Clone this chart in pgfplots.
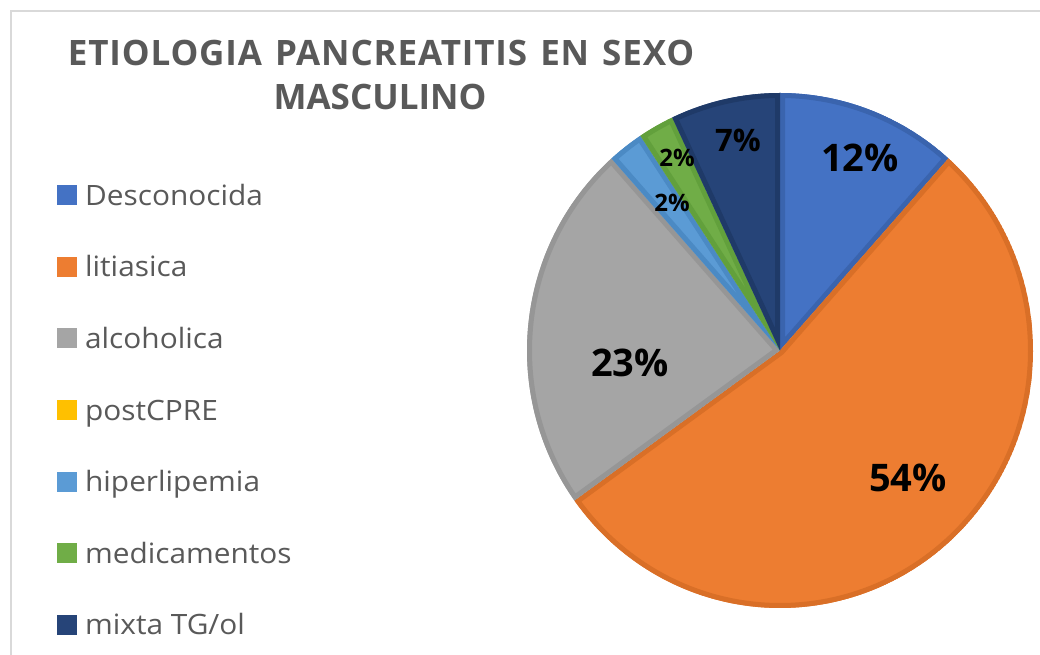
\documentclass[border=0pt]{standalone}
\usepackage{fontspec}
\setmainfont{Open Sans}
\newfontfamily\legfont[FakeStretch=1.065]{Open Sans}
\newfontfamily\titfont[LetterSpace=2.5]{Open Sans}
\usepackage{pgfplots}
\usepackage{pgfplotstable}
\pgfplotsset{compat=1.18}

\definecolor{pc0}{HTML}{4472C4}\definecolor{pd0}{HTML}{3A64AE}
\definecolor{pc1}{HTML}{ED7D31}\definecolor{pd1}{HTML}{D96F27}
\definecolor{pc2}{HTML}{A5A5A5}\definecolor{pd2}{HTML}{969696}
\definecolor{pc3}{HTML}{FFC000}\definecolor{pd3}{HTML}{E6AD00}
\definecolor{pc4}{HTML}{5B9BD5}\definecolor{pd4}{HTML}{4B8AC4}
\definecolor{pc5}{HTML}{70AD47}\definecolor{pd5}{HTML}{62A03C}
\definecolor{pc6}{HTML}{264478}\definecolor{pd6}{HTML}{1F3A68}
\definecolor{txt}{HTML}{595959}
\definecolor{framec}{HTML}{D9D9D9}

% value = share in percent; lab = printed label; lx,ly = label position (axis units); size = label font size
\pgfplotstableread{
idx value lab lx ly size
0 11.6 12 0.316 0.748 38
1 53.5 54 0.506 -0.495 38
2 23.3 23 -0.593 -0.049 38
3 0.0 0 0 0 24
4 2.3 2 -0.427 0.573 24
5 2.3 2 -0.407 0.748 24
6 7.0 7 -0.166 0.817 31
}\piedata

\def\cum{0}
\pgfplotsforeachungrouped \i in {0,...,6}{%
  \pgfplotstablegetelem{\i}{value}\of\piedata
  \pgfmathsetmacro\tmpS{3.6*\cum}%
  \pgfmathsetmacro\tmpC{\cum+\pgfplotsretval}%
  \pgfmathsetmacro\tmpE{3.6*\tmpC}%
  \expandafter\xdef\csname pieS\i\endcsname{\tmpS}%
  \expandafter\xdef\csname pieE\i\endcsname{\tmpE}%
  \xdef\cum{\tmpC}%
  \pgfplotstablegetelem{\i}{lx}\of\piedata
  \expandafter\xdef\csname pieX\i\endcsname{\pgfplotsretval}%
  \pgfplotstablegetelem{\i}{ly}\of\piedata
  \expandafter\xdef\csname pieY\i\endcsname{\pgfplotsretval}%
  \pgfplotstablegetelem{\i}{lab}\of\piedata
  \expandafter\xdef\csname pieL\i\endcsname{\pgfplotsretval}%
  \pgfplotstablegetelem{\i}{size}\of\piedata
  \expandafter\xdef\csname pieZ\i\endcsname{\pgfplotsretval}%
}

\newcommand\pieslice[1]{%
  \pgfmathsetmacro\aS{90-\csname pieS#1\endcsname}%
  \pgfmathsetmacro\aE{90-\csname pieE#1\endcsname}%
  \begin{scope}
    \clip (axis cs:0,0) -- (axis cs:{cos(\aS)},{sin(\aS)})
      arc[start angle=\aS, end angle=\aE, x radius=253pt, y radius=257.5pt] -- cycle;
    \filldraw[fill=pc#1, draw=pd#1, line width=10pt, line join=round]
      (axis cs:0,0) -- (axis cs:{cos(\aS)},{sin(\aS)})
      arc[start angle=\aS, end angle=\aE, x radius=253pt, y radius=257.5pt] -- cycle;
  \end{scope}
}
\newcommand\pielabel[1]{%
  \node[font=\bfseries\fontsize{\csname pieZ#1\endcsname}{\csname pieZ#1\endcsname}\selectfont,
        text=black, inner sep=0pt]
    at (axis cs:{\csname pieX#1\endcsname},{\csname pieY#1\endcsname}) {\csname pieL#1\endcsname\%};
}

\begin{document}
\begin{tikzpicture}
\useasboundingbox (0,0) rectangle (1040pt,655pt);
\clip (0,0) rectangle (1040pt,655pt);
\fill[white] (0,0) rectangle (1040pt,655pt);
\draw[framec, line width=2pt] (11pt,-5pt) -- (11pt,644pt) -- (1045pt,644pt);

\node[anchor=base, font=\titfont\bfseries\fontsize{35}{40}\selectfont, text=txt]
  at (381pt,589pt) {ETIOLOGIA\hspace{13pt}PANCREATITIS\hspace{13pt}EN\hspace{13pt}SEXO};
\node[anchor=base, font=\bfseries\fontsize{35}{40}\selectfont, text=txt]
  at (380pt,545pt) {MASCULINO};

\begin{axis}[
  at={(780pt,304.5pt)}, anchor=center,
  width=506pt, height=515pt, scale only axis,
  xmin=-1, xmax=1, ymin=-1, ymax=1,
  hide axis,
  legend image code/.code={%
    \path[draw=none, fill=none] (0pt,-10pt) rectangle (27pt,10pt);
    \fill[#1, draw=none] (0pt,-10pt) rectangle (20pt,10pt);},
  legend style={
    at={(axis description cs:-0.929,0.831)}, anchor=north west,
    draw=none, fill=none,
    font=\legfont\fontsize{28}{34}\selectfont, text=txt,
    row sep=41.6pt, inner sep=0pt,
    nodes={inner sep=1pt, text depth=4pt, text height=24pt},
  },
  legend cell align=left,
]
\pgfplotsextra{%
  \pieslice{0}\pieslice{1}\pieslice{2}\pieslice{4}\pieslice{5}\pieslice{6}%
  \pielabel{0}\pielabel{1}\pielabel{2}\pielabel{4}\pielabel{5}\pielabel{6}%
}
\addlegendimage{fill=pc0}\addlegendentry{Desconocida}
\addlegendimage{fill=pc1}\addlegendentry{litiasica}
\addlegendimage{fill=pc2}\addlegendentry{alcoholica}
\addlegendimage{fill=pc3}\addlegendentry{postCPRE}
\addlegendimage{fill=pc4}\addlegendentry{hiperlipemia}
\addlegendimage{fill=pc5}\addlegendentry{medicamentos}
\addlegendimage{fill=pc6}\addlegendentry{mixta TG/ol}
\end{axis}
\end{tikzpicture}
\end{document}
